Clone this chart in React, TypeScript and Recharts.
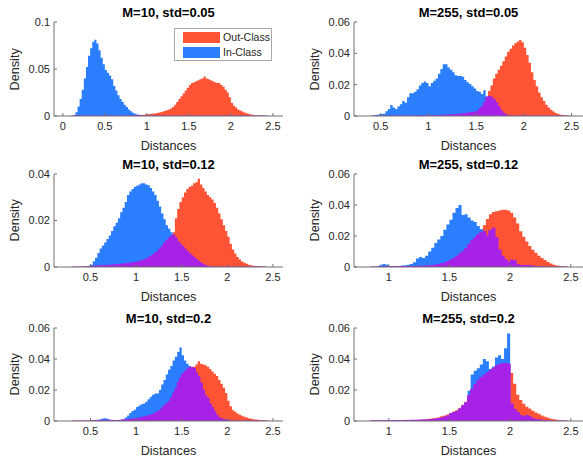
import { Area, ComposedChart, Legend, XAxis, YAxis } from 'recharts';

const BIN = 0.025;
const OUT_COLOR = '#ff5335';
const IN_COLOR = '#2b7fff';
const BOTH_COLOR = '#a722e6';
const AXIS_COLOR = '#707070';
const TEXT_COLOR = '#262626';
const FONT = '"Liberation Sans", Arial, Helvetica, sans-serif';

// bin heights, one value per 0.025 bin, starting at *_START

// M=10, std=0.05
const P1_IN_START = 0.1;
const P1_IN = [
  0.0003, 0.001, 0.004, 0.01, 0.018, 0.028, 0.04, 0.052, 0.064, 0.072,
  0.079, 0.081, 0.077, 0.07, 0.062, 0.055, 0.049, 0.046, 0.043, 0.039,
  0.032, 0.027, 0.022, 0.018, 0.015, 0.012, 0.0095, 0.007, 0.005, 0.0035,
  0.0025, 0.0015, 0.0008, 0.0003,
];
const P1_OUT_START = 0.85;
const P1_OUT = [
  0.0003, 0.0005, 0.0008, 0.001, 0.0012, 0.0015, 0.0018, 0.002, 0.0023, 0.0026,
  0.003, 0.0034, 0.004, 0.0046, 0.0053, 0.006, 0.007, 0.008, 0.0095, 0.012,
  0.015, 0.018, 0.021, 0.024, 0.027, 0.03, 0.033, 0.035, 0.036, 0.037,
  0.038, 0.039, 0.04, 0.042, 0.04, 0.039, 0.038, 0.037, 0.036, 0.035,
  0.035, 0.033, 0.031, 0.028, 0.025, 0.02, 0.014, 0.011, 0.009, 0.007,
  0.0058, 0.0048, 0.0038, 0.003, 0.0023, 0.0017, 0.0012, 0.0008, 0.0006, 0.0004,
  0.0003, 0.0002, 0.0001, 0.0001,
];

// M=255, std=0.05
const P2_IN_START = 0.4;
const P2_IN = [
  0.0002, 0.0005, 0.0008, 0.001, 0.0012, 0.0015, 0.003, 0.0045, 0.007, 0.0055,
  0.0045, 0.006, 0.0075, 0.0095, 0.0085, 0.012, 0.0145, 0.0145, 0.0155, 0.017,
  0.0195, 0.021, 0.022, 0.021, 0.019, 0.021, 0.0225, 0.024, 0.027, 0.03,
  0.033, 0.033, 0.031, 0.0295, 0.028, 0.026, 0.0255, 0.0255, 0.025, 0.023,
  0.0215, 0.0205, 0.019, 0.0175, 0.016, 0.0155, 0.014, 0.0165, 0.0125, 0.0125,
  0.012, 0.0105, 0.0085, 0.006, 0.0035, 0.0018, 0.0008, 0.0003,
];
const P2_OUT_START = 0.9;
const P2_OUT = [
  0.0001, 0.0001, 0.0001, 0.0002, 0.0002, 0.0002, 0.0003, 0.0003, 0.0004, 0.0004,
  0.0005, 0.0006, 0.0007, 0.0008, 0.0009, 0.001, 0.001, 0.0012, 0.0014, 0.0016,
  0.0018, 0.002, 0.0023, 0.0026, 0.003, 0.0045, 0.006, 0.0085, 0.012, 0.016,
  0.0195, 0.024, 0.027, 0.0295, 0.032, 0.035, 0.038, 0.041, 0.043, 0.045,
  0.0465, 0.0475, 0.0485, 0.047, 0.0435, 0.039, 0.034, 0.028, 0.023, 0.019,
  0.015, 0.012, 0.0095, 0.0072, 0.0055, 0.004, 0.0028, 0.0019, 0.0012, 0.0008,
  0.0005, 0.0003, 0.0001,
];

// M=10, std=0.12
const P3_IN_START = 0.45;
const P3_IN = [
  0.0001, 0.0003, 0.001, 0.0025, 0.004, 0.006, 0.008, 0.0092, 0.0105, 0.012,
  0.0135, 0.0155, 0.0175, 0.019, 0.021, 0.0235, 0.0255, 0.028, 0.031, 0.0325,
  0.0335, 0.0345, 0.035, 0.0355, 0.036, 0.036, 0.0355, 0.0352, 0.034, 0.0325,
  0.031, 0.0285, 0.026, 0.023, 0.0205, 0.018, 0.0165, 0.015, 0.0138, 0.0125,
  0.011, 0.0098, 0.0088, 0.0077, 0.0067, 0.0058, 0.0048, 0.004, 0.0032, 0.0024,
  0.0017, 0.0011, 0.0006, 0.0003, 0.0001,
];
const P3_OUT_START = 0.3;
const P3_OUT = [
  0.0001, 0.0001, 0.0001, 0.0001, 0.0002, 0.0002, 0.0002, 0.0003, 0.0003, 0.0004,
  0.0004, 0.0005, 0.0005, 0.0006, 0.0006, 0.0007, 0.0008, 0.0008, 0.0009, 0.001,
  0.0011, 0.0012, 0.0013, 0.0014, 0.0015, 0.0016, 0.0018, 0.002, 0.0022, 0.0024,
  0.0027, 0.003, 0.0034, 0.004, 0.0046, 0.0053, 0.006, 0.0067, 0.0078, 0.009,
  0.0103, 0.0113, 0.0125, 0.0133, 0.015, 0.021, 0.025, 0.028, 0.03, 0.032,
  0.0335, 0.0345, 0.035, 0.036, 0.0365, 0.038, 0.0355, 0.034, 0.0325, 0.031,
  0.03, 0.029, 0.0275, 0.0255, 0.023, 0.0205, 0.018, 0.0155, 0.013, 0.01,
  0.0075, 0.0058, 0.0043, 0.0032, 0.0024, 0.0018, 0.0014, 0.001, 0.0007, 0.0005,
  0.0004, 0.0003, 0.0002, 0.0001, 0.0001,
];

// M=255, std=0.12
const P4_IN_START = 0.9;
const P4_IN = [
  0.0005, 0.0015, 0.002, 0.0015, 0.0007, 0.0005, 0.0006, 0.0007, 0.0009, 0.0011,
  0.0014, 0.002, 0.003, 0.0055, 0.0065, 0.0058, 0.0072, 0.01, 0.0125, 0.0155,
  0.0178, 0.02, 0.024, 0.0275, 0.0305, 0.035, 0.038, 0.04, 0.0335, 0.034,
  0.032, 0.03, 0.029, 0.0265, 0.0245, 0.023, 0.02, 0.0235, 0.025, 0.019,
  0.011, 0.007, 0.0048, 0.003, 0.0045, 0.004, 0.0015, 0.001, 0.001, 0.001,
  0.0008, 0.0006, 0.0004, 0.0003, 0.0002,
];
const P4_OUT_START = 0.85;
const P4_OUT = [
  0.0001, 0.0001, 0.0001, 0.0001, 0.0001, 0.0002, 0.0002, 0.0002, 0.0002, 0.0003,
  0.0003, 0.0003, 0.0004, 0.0004, 0.0004, 0.0005, 0.0005, 0.0006, 0.0007, 0.0008,
  0.001, 0.0013, 0.0017, 0.0021, 0.0026, 0.0035, 0.0045, 0.0055, 0.007, 0.0085,
  0.01, 0.012, 0.0145, 0.017, 0.019, 0.021, 0.0225, 0.027, 0.031, 0.034,
  0.0355, 0.036, 0.0365, 0.037, 0.037, 0.0365, 0.035, 0.032, 0.028, 0.023,
  0.0195, 0.0165, 0.0135, 0.0112, 0.0092, 0.0073, 0.0058, 0.0045, 0.0032, 0.0022,
  0.0015, 0.001, 0.0007, 0.0004, 0.0002,
];

// M=10, std=0.2
const P5_IN_START = 0.5;
const P5_IN = [
  0.0002, 0.0003, 0.0005, 0.0008, 0.0012, 0.0016, 0.0017, 0.0014, 0.0008, 0.0004,
  0.0003, 0.0003, 0.0004, 0.0006, 0.0012, 0.0022, 0.0035, 0.0052, 0.0064, 0.0072,
  0.009, 0.01, 0.0108, 0.0113, 0.0125, 0.014, 0.0156, 0.017, 0.0178, 0.0178,
  0.02, 0.0235, 0.0265, 0.03, 0.033, 0.0355, 0.039, 0.0415, 0.0445, 0.0474,
  0.0425, 0.039, 0.037, 0.0355, 0.0345, 0.034, 0.031, 0.0285, 0.0245, 0.02,
  0.0165, 0.0145, 0.011, 0.0085, 0.006, 0.0035, 0.002, 0.0014, 0.001, 0.0006,
  0.0004, 0.0002,
];
const P5_OUT_START = 0.3;
const P5_OUT = [
  0.0001, 0.0001, 0.0001, 0.0001, 0.0002, 0.0002, 0.0002, 0.0002, 0.0003, 0.0003,
  0.0003, 0.0003, 0.0004, 0.0004, 0.0004, 0.0004, 0.0005, 0.0005, 0.0005, 0.0005,
  0.0005, 0.0006, 0.0007, 0.0008, 0.0009, 0.0011, 0.0013, 0.0015, 0.0017, 0.002,
  0.0023, 0.0026, 0.003, 0.0034, 0.0039, 0.0045, 0.0052, 0.006, 0.0068, 0.0085,
  0.01, 0.0112, 0.0125, 0.015, 0.018, 0.021, 0.025, 0.028, 0.0305, 0.032,
  0.0335, 0.0345, 0.035, 0.035, 0.0365, 0.0385, 0.037, 0.0365, 0.036, 0.035,
  0.0335, 0.032, 0.0305, 0.029, 0.0265, 0.024, 0.0215, 0.018, 0.013, 0.0095,
  0.007, 0.006, 0.0048, 0.004, 0.0034, 0.0028, 0.0022, 0.0018, 0.0015, 0.0012,
  0.001, 0.0008, 0.0006, 0.0005, 0.0003, 0.0001,
];

// M=255, std=0.2
const P6_IN_START = 0.85;
const P6_IN = [
  0.0001, 0.0001, 0.0001, 0.0001, 0.0002, 0.0002, 0.0002, 0.0002, 0.0003, 0.0003,
  0.0003, 0.0004, 0.0004, 0.0005, 0.0005, 0.0006, 0.0006, 0.0007, 0.0007, 0.0008,
  0.001, 0.0013, 0.0016, 0.002, 0.0026, 0.0033, 0.0048, 0.0055, 0.0062, 0.0078,
  0.0098, 0.0118, 0.0195, 0.03, 0.0325, 0.034, 0.0365, 0.04, 0.0385, 0.0335,
  0.035, 0.041, 0.0425, 0.04, 0.047, 0.0565, 0.011, 0.0075, 0.0055, 0.0037,
  0.0028, 0.0036, 0.0028, 0.0016, 0.001, 0.0009, 0.0005, 0.0003, 0.0002,
];
const P6_OUT_START = 0.85;
const P6_OUT = [
  0.0001, 0.0001, 0.0001, 0.0001, 0.0001, 0.0002, 0.0002, 0.0002, 0.0003, 0.0003,
  0.0003, 0.0004, 0.0004, 0.0005, 0.0005, 0.0006, 0.0008, 0.001, 0.0012, 0.0014,
  0.0017, 0.002, 0.0025, 0.003, 0.0035, 0.0042, 0.0052, 0.0062, 0.007, 0.0085,
  0.0105, 0.0125, 0.0165, 0.0205, 0.0235, 0.026, 0.028, 0.0295, 0.031, 0.0325,
  0.034, 0.0355, 0.0365, 0.037, 0.037, 0.0368, 0.031, 0.024, 0.017, 0.0135,
  0.0112, 0.0092, 0.008, 0.0066, 0.0055, 0.0046, 0.0036, 0.0028, 0.0021, 0.0015,
  0.0011, 0.0008, 0.0005, 0.0003, 0.0001,
];

const X_TICKS_FROM_0 = [0, 0.5, 1, 1.5, 2, 2.5];
const X_TICKS_FROM_05 = [0.5, 1, 1.5, 2, 2.5];
const X_TICKS_FROM_1 = [1, 1.5, 2, 2.5];
const Y_TICKS_01 = [0, 0.05, 0.1];
const Y_TICKS_004 = [0, 0.02, 0.04];
const Y_TICKS_006 = [0, 0.02, 0.04, 0.06];

const LEGEND_ITEMS = [
  { label: 'Out-Class', color: OUT_COLOR },
  { label: 'In-Class', color: IN_COLOR },
];

interface Row {
  x: number;
  out: number;
  inn: number;
  both: number;
}

// step-histogram table: one row per bin edge, plus a closing edge
const buildRows = (inStart: number, inVals: number[], outStart: number, outVals: number[]): Row[] => {
  const inK = Math.round(inStart / BIN);
  const outK = Math.round(outStart / BIN);
  const first = Math.min(inK, outK);
  const last = Math.max(inK + inVals.length, outK + outVals.length);
  const rows: Row[] = [];
  for (let k = first; k <= last; k++) {
    const inn = inVals[k - inK] ?? 0;
    const out = outVals[k - outK] ?? 0;
    rows.push({ x: Number((k * BIN).toFixed(3)), out, inn, both: Math.min(out, inn) });
  }
  return rows;
};

const PLOT_W = 229;
const Y_AXIS_W = 54;
const X_AXIS_H = 40;
const TOP_PAD = 10;
const COL_LEFT = [54, 354];
const ROWS_Y = [
  { top: 22, h: 94 },
  { top: 174, h: 93 },
  { top: 328, h: 93 },
];

interface PanelDef {
  title: string;
  rows: Row[];
  xDomain: [number, number];
  xTicks: number[];
  yMax: number;
  yTicks: number[];
  col: number;
  row: number;
  legend?: boolean;
}

const PANELS: PanelDef[] = [
  {
    title: 'M=10, std=0.05',
    rows: buildRows(P1_IN_START, P1_IN, P1_OUT_START, P1_OUT),
    xDomain: [-0.105, 2.62],
    xTicks: X_TICKS_FROM_0,
    yMax: 0.1,
    yTicks: Y_TICKS_01,
    col: 0,
    row: 0,
    legend: true,
  },
  {
    title: 'M=255, std=0.05',
    rows: buildRows(P2_IN_START, P2_IN, P2_OUT_START, P2_OUT),
    xDomain: [0.22, 2.62],
    xTicks: X_TICKS_FROM_05,
    yMax: 0.06,
    yTicks: Y_TICKS_006,
    col: 1,
    row: 0,
  },
  {
    title: 'M=10, std=0.12',
    rows: buildRows(P3_IN_START, P3_IN, P3_OUT_START, P3_OUT),
    xDomain: [0.1, 2.61],
    xTicks: X_TICKS_FROM_05,
    yMax: 0.04,
    yTicks: Y_TICKS_004,
    col: 0,
    row: 1,
  },
  {
    title: 'M=255, std=0.12',
    rows: buildRows(P4_IN_START, P4_IN, P4_OUT_START, P4_OUT),
    xDomain: [0.714, 2.6],
    xTicks: X_TICKS_FROM_1,
    yMax: 0.06,
    yTicks: Y_TICKS_006,
    col: 1,
    row: 1,
  },
  {
    title: 'M=10, std=0.2',
    rows: buildRows(P5_IN_START, P5_IN, P5_OUT_START, P5_OUT),
    xDomain: [0.1, 2.61],
    xTicks: X_TICKS_FROM_05,
    yMax: 0.06,
    yTicks: Y_TICKS_006,
    col: 0,
    row: 2,
  },
  {
    title: 'M=255, std=0.2',
    rows: buildRows(P6_IN_START, P6_IN, P6_OUT_START, P6_OUT),
    xDomain: [0.714, 2.6],
    xTicks: X_TICKS_FROM_1,
    yMax: 0.06,
    yTicks: Y_TICKS_006,
    col: 1,
    row: 2,
  },
];

// MATLAB-style boxed legend, fixed order Out-Class then In-Class
const LegendBox = () => (
  <div
    style={{
      width: 98,
      height: 33,
      boxSizing: 'border-box',
      border: '1px solid #a8a8a8',
      background: '#fff',
      padding: '3px 0 0 8px',
    }}
  >
    {LEGEND_ITEMS.map((item) => (
      <div key={item.label} style={{ display: 'flex', alignItems: 'center', height: 11, marginBottom: 3.5 }}>
        <span style={{ width: 37, height: 11, background: item.color, marginRight: 3 }} />
        <span style={{ fontSize: 10.6, lineHeight: '11px', color: TEXT_COLOR, fontFamily: FONT }}>
          {item.label}
        </span>
      </div>
    ))}
  </div>
);

const Panel = ({ p }: { p: PanelDef }) => {
  const plotLeft = COL_LEFT[p.col];
  const { top: plotTop, h: plotH } = ROWS_Y[p.row];
  const tickStyle = { fontSize: 11, fill: TEXT_COLOR, fontFamily: FONT };
  return (
    <>
      <div
        style={{
          position: 'absolute',
          left: plotLeft,
          top: plotTop - 16,
          width: PLOT_W,
          textAlign: 'center',
          fontSize: 13,
          lineHeight: '13px',
          fontWeight: 'bold',
          color: '#000',
          whiteSpace: 'nowrap',
        }}
      >
        {p.title}
      </div>
      <div style={{ position: 'absolute', left: plotLeft - Y_AXIS_W, top: plotTop - TOP_PAD }}>
        <ComposedChart
          width={Y_AXIS_W + PLOT_W}
          height={TOP_PAD + plotH + X_AXIS_H}
          data={p.rows}
          margin={{ top: TOP_PAD, right: 0, bottom: 0, left: 0 }}
        >
          <XAxis
            type="number"
            dataKey="x"
            domain={p.xDomain}
            ticks={p.xTicks}
            interval={0}
            allowDataOverflow
            height={X_AXIS_H}
            stroke={AXIS_COLOR}
            tickSize={-3}
            tickMargin={9}
            tick={tickStyle}
          />
          <YAxis
            type="number"
            domain={[0, p.yMax]}
            ticks={p.yTicks}
            interval={0}
            allowDataOverflow
            width={Y_AXIS_W}
            stroke={AXIS_COLOR}
            tickSize={-3}
            tickMargin={7}
            tick={tickStyle}
          />
          <Area
            type="stepAfter"
            dataKey="out"
            name="Out-Class"
            fill={OUT_COLOR}
            fillOpacity={1}
            stroke="none"
            dot={false}
            activeDot={false}
            isAnimationActive={false}
          />
          <Area
            type="stepAfter"
            dataKey="inn"
            name="In-Class"
            fill={IN_COLOR}
            fillOpacity={1}
            stroke="none"
            dot={false}
            activeDot={false}
            isAnimationActive={false}
          />
          <Area
            type="stepAfter"
            dataKey="both"
            name="Overlap"
            legendType="none"
            fill={BOTH_COLOR}
            fillOpacity={1}
            stroke={BOTH_COLOR}
            strokeWidth={1}
            dot={false}
            activeDot={false}
            isAnimationActive={false}
          />
          {p.legend && (
            <Legend
              layout="vertical"
              align="center"
              verticalAlign="middle"
              content={<LegendBox />}
              wrapperStyle={{ left: 174 - (plotLeft - Y_AXIS_W), top: 28 - (plotTop - TOP_PAD), width: 98 }}
            />
          )}
        </ComposedChart>
      </div>
      <div
        style={{
          position: 'absolute',
          left: plotLeft,
          top: plotTop + plotH + 23.5,
          width: PLOT_W,
          textAlign: 'center',
          fontSize: 12.7,
          lineHeight: '12.7px',
          color: TEXT_COLOR,
        }}
      >
        Distances
      </div>
      <div
        style={{
          position: 'absolute',
          left: plotLeft - 39 - 50,
          top: plotTop + plotH / 2 - 6.35,
          width: 100,
          height: 12.7,
          textAlign: 'center',
          fontSize: 12.7,
          lineHeight: '12.7px',
          color: TEXT_COLOR,
          transform: 'rotate(-90deg)',
        }}
      >
        Density
      </div>
    </>
  );
};

const App = () => (
  <div
    style={{
      position: 'absolute',
      left: 0,
      top: 0,
      width: 583,
      height: 464,
      background: '#fff',
      fontFamily: FONT,
      overflow: 'hidden',
    }}
  >
    {PANELS.map((p) => (
      <Panel key={p.title} p={p} />
    ))}
  </div>
);

export default App;
